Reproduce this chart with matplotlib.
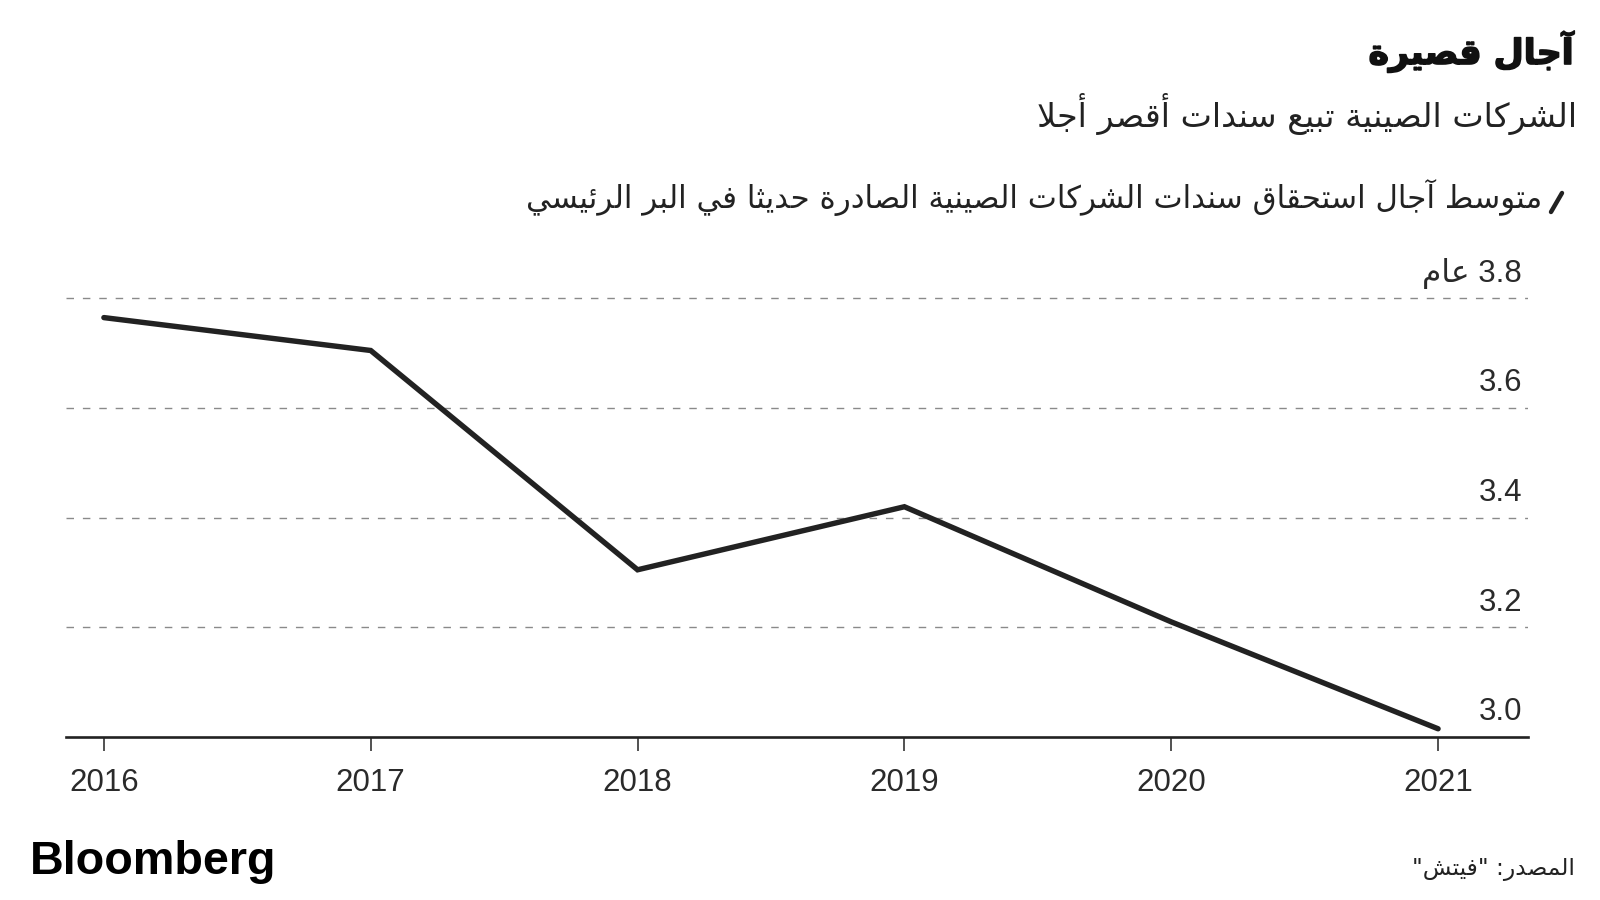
import matplotlib
matplotlib.use('Agg')
import matplotlib.pyplot as plt
from matplotlib.lines import Line2D
import matplotlib.patheffects as pe

# ---------------- data ----------------
years = [2016, 2017, 2018, 2019, 2020, 2021]
maturity = [3.765, 3.705, 3.305, 3.42, 3.21, 3.015]
y_ticks = [3.0, 3.2, 3.4, 3.6, 3.8]
y_tick_labels = ['3.0', '3.2', '3.4', '3.6', '3.8']
y_unit = 'عام'
year_labels = ['2016', '2017', '2018', '2019', '2020', '2021']
title = 'آجال قصيرة'
subtitle = 'الشركات الصينية تبيع سندات أقصر أجلا'
legend_label = 'متوسط آجال استحقاق سندات الشركات الصينية الصادرة حديثا في البر الرئيسي'
source = 'المصدر: "فيتش"'
brand = 'Bloomberg'

# ---------------- minimal Arabic shaping (presentation forms + RTL) ----------------
_order = list(range(0x0622, 0x063B)) + list(range(0x0641, 0x064B))
_right = set(map(ord, 'آأؤإادذرزوىة'))
_forms = {0x0621: (0xFE80,)}
_code = 0xFE81
for _c in _order:
    _n = 2 if _c in _right else 4
    _forms[_c] = tuple(range(_code, _code + _n))
    _code += _n
_lamalef = {0x0622: (0xFEF5, 0xFEF6), 0x0623: (0xFEF7, 0xFEF8),
            0x0625: (0xFEF9, 0xFEFA), 0x0627: (0xFEFB, 0xFEFC)}


def _dual(ch):
    return ord(ch) in _forms and len(_forms[ord(ch)]) == 4


def _joinable(ch):
    return ord(ch) in _forms and ord(ch) != 0x0621


def shape(text):
    units = []
    i = 0
    while i < len(text):
        c = text[i]
        if c == 'ل' and i + 1 < len(text) and ord(text[i + 1]) in _lamalef:
            units.append(('LA', text[i + 1]))
            i += 2
        else:
            units.append(('C', c))
            i += 1
    res = []
    for k, (kind, c) in enumerate(units):
        prev = units[k - 1] if k > 0 else None
        nxt = units[k + 1] if k + 1 < len(units) else None
        prev_joins = prev is not None and prev[0] == 'C' and _dual(prev[1])
        if kind == 'LA':
            f = _lamalef[ord(c)]
            res.append(chr(f[1] if prev_joins else f[0]))
            continue
        o = ord(c)
        if o not in _forms:
            res.append(c)
            continue
        forms = _forms[o]
        if len(forms) == 1:
            res.append(chr(forms[0]))
            continue
        if len(forms) == 2:
            res.append(chr(forms[1] if prev_joins else forms[0]))
            continue
        nj = nxt is not None and (nxt[0] == 'LA' or _joinable(nxt[1]))
        if prev_joins and nj:
            f = forms[3]
        elif prev_joins:
            f = forms[1]
        elif nj:
            f = forms[2]
        else:
            f = forms[0]
        res.append(chr(f))
    return ''.join(res)[::-1]


# ---------------- figure ----------------
W, H = 1600, 900
fig = plt.figure(figsize=(16, 9), dpi=100)
fig.patch.set_facecolor('white')


def fx(x):
    return x / W


def fy(y):
    return 1 - y / H


ax_left, ax_right, ax_bottom, ax_top = 66, 1528, 737, 271
ax = fig.add_axes([fx(ax_left), fy(ax_bottom), (ax_right - ax_left) / W, (ax_bottom - ax_top) / H])
ax.set_xlim(2015.858, 2021.337)
ax.set_ylim(3.0, 3.85)

for s in ['left', 'right', 'top']:
    ax.spines[s].set_visible(False)
ax.spines['bottom'].set_linewidth(1.9)
ax.spines['bottom'].set_color('#222222')
ax.spines['bottom'].set_zorder(4)

for yv in y_ticks[1:]:
    ax.axhline(yv, color='#8a8a8a', lw=1.0, dashes=(5.4, 6.4), zorder=1)

ax.plot(years, maturity, color='#222222', lw=3.9, solid_capstyle='round',
        solid_joinstyle='miter', zorder=3)

ax.set_yticks([])
ax.set_xticks(years)
ax.set_xticklabels(year_labels, fontsize=22.5, family=['Liberation Sans', 'DejaVu Sans'], color='#2a2a2a')
ax.tick_params(axis='x', direction='out', length=10, width=1.1, color='#222222', pad=12)

for yv, lab in zip(y_ticks, y_tick_labels):
    txt = lab if lab != '3.8' else shape(y_unit) + ' ' + lab
    ax.annotate(txt, xy=(1, yv), xycoords=('axes fraction', 'data'),
                xytext=(-4.3, 12.0), textcoords='offset points',
                ha='right', va='baseline', fontsize=22.5,
                family=['Liberation Sans', 'DejaVu Sans'], color='#2a2a2a')


def fit_text(x, y, s, target_w, fs, ha='right', **kw):
    t = fig.text(fx(x), fy(y), s, ha=ha, va='baseline', fontsize=fs, **kw)
    fig.canvas.draw()
    w = t.get_window_extent().width
    t.set_fontsize(fs * target_w / w)
    return t


t_title = fit_text(1573, 64, shape(title), 205, 26, family='DejaVu Sans', fontweight='bold', color='#111111')
t_title.set_path_effects([pe.withStroke(linewidth=1.2, foreground='#111111')])
fit_text(1577, 127, shape(subtitle), 539, 22, family='DejaVu Sans', color='#222222')
fit_text(1542, 208, shape(legend_label), 1015, 20, family='DejaVu Sans', color='#222222')
fit_text(1575, 875, shape(source), 163, 16, family='DejaVu Sans', color='#222222')
fit_text(30, 874, brand, 247, 34, ha='left', family='Liberation Sans', fontweight='bold', color='#000000')

# legend slash marker
fig.add_artist(Line2D([fx(1551), fx(1562)], [fy(212), fy(193)], transform=fig.transFigure,
                      color='#222222', lw=3.2, solid_capstyle='round'))

fig.savefig('out.png', dpi=100, facecolor='white')
